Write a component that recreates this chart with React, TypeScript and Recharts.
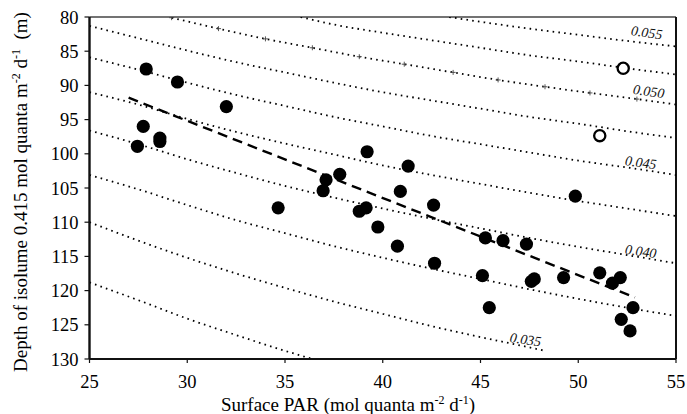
import React from 'react';
import { ComposedChart, XAxis, YAxis, Line, Scatter, ReferenceLine } from 'recharts';

const FONT = "Liberation Serif";

const xTicks = [25, 30, 35, 40, 45, 50, 55];
const yTicks = [80, 85, 90, 95, 100, 105, 110, 115, 120, 125, 130];

const filledPoints = [
  { x: 27.9, y: 87.6 }, { x: 29.5, y: 89.5 }, { x: 32.0, y: 93.1 }, { x: 27.75, y: 96.0 },
  { x: 28.6, y: 97.7 }, { x: 28.6, y: 98.2 }, { x: 27.45, y: 98.9 }, { x: 34.65, y: 107.9 },
  { x: 37.1, y: 103.8 }, { x: 36.95, y: 105.4 }, { x: 37.8, y: 103.0 }, { x: 39.2, y: 99.7 },
  { x: 41.3, y: 101.8 }, { x: 40.9, y: 105.5 }, { x: 42.6, y: 107.5 }, { x: 49.85, y: 106.2 },
  { x: 38.8, y: 108.4 }, { x: 39.15, y: 107.9 }, { x: 39.75, y: 110.7 }, { x: 40.75, y: 113.5 },
  { x: 42.65, y: 116.0 }, { x: 45.25, y: 112.3 }, { x: 46.15, y: 112.7 }, { x: 47.35, y: 113.2 },
  { x: 45.1, y: 117.8 }, { x: 45.45, y: 122.5 }, { x: 47.6, y: 118.65 }, { x: 47.75, y: 118.3 },
  { x: 49.25, y: 118.1 }, { x: 51.1, y: 117.4 }, { x: 51.75, y: 118.9 }, { x: 52.15, y: 118.1 },
  { x: 52.8, y: 122.5 }, { x: 52.2, y: 124.2 }, { x: 52.65, y: 125.9 },
];

const openPoints = [{ x: 52.3, y: 87.5 }, { x: 51.1, y: 97.35 }];

const regression = [{ x: 27.0, y: 91.8 }, { x: 52.9, y: 121.0 }];

const c055 = [
  { x: 43.4, y: 80 }, { x: 45, y: 80.7 }, { x: 47.5, y: 81.7 }, { x: 50, y: 82.6 }, { x: 52.5, y: 83.5 }, { x: 55, y: 84.3 },
];
const c0525 = [
  { x: 35.8, y: 80 }, { x: 37.5, y: 81.1 }, { x: 40, y: 82.3 }, { x: 42.5, y: 83.4 }, { x: 45, y: 84.5 },
  { x: 47.5, y: 85.6 }, { x: 50, y: 86.5 }, { x: 52.5, y: 87.5 }, { x: 55, y: 88.4 },
];
const c050 = [
  { x: 29.2, y: 80.1, m: 1 }, { x: 31.6, y: 81.7, m: 1 }, { x: 34.0, y: 83.2, m: 1 }, { x: 36.4, y: 84.5, m: 1 },
  { x: 38.8, y: 85.8, m: 1 }, { x: 41.1, y: 86.9, m: 1 }, { x: 43.6, y: 88.1, m: 1 }, { x: 45.9, y: 89.2, m: 1 },
  { x: 48.3, y: 90.2, m: 1 }, { x: 50.6, y: 91.1, m: 1 }, { x: 53.0, y: 92.0, m: 1 }, { x: 55, y: 92.8, m: 0 },
];
const c0475 = [
  { x: 25, y: 81.3 }, { x: 27.5, y: 83.1 }, { x: 30, y: 84.9 }, { x: 32.5, y: 86.6 }, { x: 35, y: 88.1 },
  { x: 37.5, y: 89.6 }, { x: 40, y: 91.0 }, { x: 42.5, y: 92.2 }, { x: 45, y: 93.4 }, { x: 47.5, y: 94.6 },
  { x: 50, y: 95.6 }, { x: 52.5, y: 96.7 }, { x: 55, y: 97.7 },
];
const c045 = [
  { x: 25, y: 85.9 }, { x: 27.5, y: 87.7 }, { x: 30, y: 89.6 }, { x: 32.5, y: 91.4 }, { x: 35, y: 93.0 },
  { x: 37.5, y: 94.6 }, { x: 40, y: 96.0 }, { x: 42.5, y: 97.4 }, { x: 45, y: 98.6 }, { x: 47.5, y: 99.8 },
  { x: 50, y: 101.0 }, { x: 52.5, y: 102.0 }, { x: 55, y: 103.1 },
];
const c0425 = [
  { x: 25, y: 91.0 }, { x: 27.5, y: 92.8 }, { x: 30, y: 94.9 }, { x: 32.5, y: 96.8 }, { x: 35, y: 98.5 },
  { x: 37.5, y: 100.1 }, { x: 40, y: 101.7 }, { x: 42.5, y: 103.1 }, { x: 45, y: 104.4 }, { x: 47.5, y: 105.7 },
  { x: 50, y: 106.9 }, { x: 52.5, y: 108.0 }, { x: 55, y: 109.1 },
];
const c040 = [
  { x: 25, y: 96.6 }, { x: 27.5, y: 98.6 }, { x: 30, y: 100.8 }, { x: 32.5, y: 102.8 }, { x: 35, y: 104.7 },
  { x: 37.5, y: 106.4 }, { x: 40, y: 108.0 }, { x: 42.5, y: 109.5 }, { x: 45, y: 110.9 }, { x: 47.5, y: 112.3 },
  { x: 50, y: 113.6 }, { x: 52.5, y: 114.8 }, { x: 55, y: 116.0 },
];
const c0375 = [
  { x: 25, y: 103.1 }, { x: 27.5, y: 105.2 }, { x: 30, y: 107.5 }, { x: 32.5, y: 109.7 }, { x: 35, y: 111.6 },
  { x: 37.5, y: 113.5 }, { x: 40, y: 115.2 }, { x: 42.5, y: 116.8 }, { x: 45, y: 118.3 }, { x: 47.5, y: 119.8 },
  { x: 50, y: 121.2 }, { x: 52.5, y: 122.5 }, { x: 55, y: 123.7 },
];
const c035 = [
  { x: 25, y: 110.0 }, { x: 27.5, y: 112.7 }, { x: 30, y: 115.2 }, { x: 32.5, y: 117.5 }, { x: 35, y: 119.6 },
  { x: 37.5, y: 121.6 }, { x: 40, y: 123.4 }, { x: 42.5, y: 125.2 }, { x: 45, y: 126.8 }, { x: 47.5, y: 128.3 },
  { x: 48.3, y: 128.8 },
];
const c0325 = [
  { x: 25, y: 118.8 }, { x: 27.5, y: 121.4 }, { x: 30, y: 124.1 }, { x: 32.5, y: 126.5 }, { x: 35, y: 128.8 },
  { x: 36.4, y: 130 },
];

const contourLabels = [
  { x: 53.5, y: 82.3, t: '0.055' },
  { x: 53.6, y: 90.9, t: '0.050' },
  { x: 53.2, y: 101.3, t: '0.045' },
  { x: 53.2, y: 114.3, t: '0.040' },
  { x: 47.3, y: 127.2, t: '0.035' },
];

const curves = [c055, c0525, c050, c0475, c045, c0425, c040, c0375, c035, c0325];

const PlusDot = (p: any) => {
  const { cx, cy, payload, index } = p;
  if (!payload || !payload.m || cx == null) return <g key={`pd${index}`} />;
  return (
    <path
      key={`pd${index}`}
      d={`M${cx - 2.5},${cy}H${cx + 2.5}M${cx},${cy - 2.5}V${cy + 2.5}`}
      stroke="#444"
      strokeWidth={0.9}
      fill="none"
    />
  );
};

const FilledShape = (p: any) => <circle cx={p.cx} cy={p.cy} r={6.6} fill="#000" />;
const OpenShape = (p: any) => (
  <circle cx={p.cx} cy={p.cy} r={5.6} fill="#fff" stroke="#000" strokeWidth={2.3} />
);
const LabelShape = (p: any) => (
  <text
    x={p.cx}
    y={p.cy}
    textAnchor="middle"
    dominantBaseline="central"
    fontFamily={FONT}
    fontStyle="italic"
    fontSize={14}
    fill="#111"
    transform={`rotate(8, ${p.cx}, ${p.cy})`}
  >
    {p.payload.t}
  </text>
);

const XTick = (p: any) => (
  <text x={p.x} y={p.y} dy="0.71em" textAnchor="middle" fontFamily={FONT} fontSize={18.5} fill="#000">
    {String(p.payload.value)}
  </text>
);

const YTick = (p: any) => (
  <text x={p.x} y={p.y} dy="0.355em" textAnchor="end" fontFamily={FONT} fontSize={18.5} fill="#000">
    {String(p.payload.value)}
  </text>
);

const XTitle = (props: any) => {
  const vb = props.viewBox || { x: 89.5, y: 359, width: 586.5, height: 30 };
  const cx = vb.x + 258.5;
  const y = vb.y + 52;
  return (
    <text x={cx} y={y} textAnchor="middle" fontFamily={FONT} fontSize={19} fill="#000">
      Surface PAR (mol quanta m
      <tspan dy={-7} fontSize={12}>-2</tspan>
      <tspan dy={7}> d</tspan>
      <tspan dy={-7} fontSize={12}>-1</tspan>
      <tspan dy={7}>)</tspan>
    </text>
  );
};

const YTitle = (props: any) => {
  const vb = props.viewBox || { x: 29.5, y: 17, width: 60, height: 342 };
  const x = vb.x - 2.5;
  const cy = vb.y + 175;
  return (
    <text
      x={x}
      y={cy}
      textAnchor="middle"
      fontFamily={FONT}
      fontSize={19}
      fill="#000"
      transform={`rotate(-90, ${x}, ${cy})`}
    >
      Depth of isolume 0.415 mol quanta m
      <tspan dy={-7} fontSize={12}>-2</tspan>
      <tspan dy={7}> d</tspan>
      <tspan dy={-7} fontSize={12}>-1</tspan>
      <tspan dy={7}>{'\u00A0\u00A0(m)'}</tspan>
    </text>
  );
};

export default function App() {
  return (
    <div style={{ position: 'absolute', left: 0, top: 0, background: '#fff', fontFamily: FONT }}>
      <ComposedChart width={687} height={414} margin={{ top: 17, right: 11, bottom: 25, left: 29.5 }}>
        <XAxis
          type="number"
          dataKey="x"
          domain={[25, 55]}
          ticks={xTicks}
          allowDataOverflow
          height={30}
          tickSize={4}
          tickMargin={12}
          axisLine={{ stroke: '#111', strokeWidth: 2.2 }}
          tickLine={{ stroke: '#111', strokeWidth: 1.2 }}
          tick={XTick}
          label={<XTitle />}
        />
        <YAxis
          type="number"
          dataKey="y"
          domain={[80, 130]}
          reversed
          ticks={yTicks}
          allowDataOverflow
          width={60}
          tickSize={5}
          tickMargin={6}
          axisLine={{ stroke: '#111', strokeWidth: 2.4 }}
          tickLine={{ stroke: '#111', strokeWidth: 1.2 }}
          tick={YTick}
          label={<YTitle />}
        />
        <ReferenceLine y={80} stroke="#444" strokeWidth={1.4} />
        <ReferenceLine x={55} stroke="#111" strokeWidth={2} />
        {curves.map((c, i) => (
          <Line
            key={`c${i}`}
            data={c}
            dataKey="y"
            type="monotone"
            stroke="#000"
            strokeWidth={1.8}
            strokeDasharray="1.6 4.2"
            dot={c === c050 ? PlusDot : false}
            activeDot={false}
            isAnimationActive={false}
          />
        ))}
        <Line
          data={regression}
          dataKey="y"
          type="linear"
          stroke="#000"
          strokeWidth={2.4}
          strokeDasharray="10 6"
          dot={false}
          activeDot={false}
          isAnimationActive={false}
        />
        <Scatter data={filledPoints} dataKey="y" shape={FilledShape} isAnimationActive={false} />
        <Scatter data={openPoints} dataKey="y" shape={OpenShape} isAnimationActive={false} />
        <Scatter data={contourLabels} dataKey="y" shape={LabelShape} isAnimationActive={false} />
      </ComposedChart>
    </div>
  );
}
